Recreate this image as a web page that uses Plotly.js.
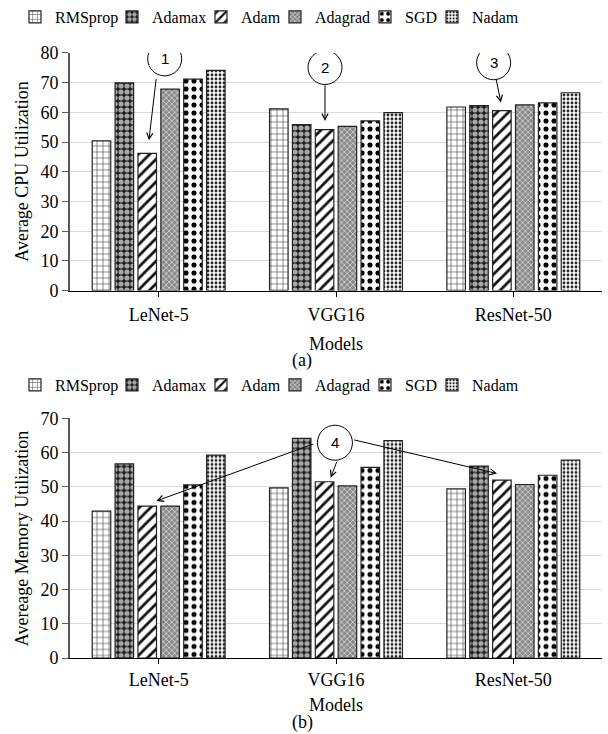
<!DOCTYPE html>
<html>
<head>
<meta charset="utf-8">
<script src="https://cdn.plot.ly/plotly-3.0.1.min.js"></script>
<style>html,body{margin:0;padding:0;background:#fff;}#chart{width:608px;height:734px;}</style>
</head>
<body>
<div id="chart"></div>
<script>
// ---- data ----
var categories = ['LeNet-5', 'VGG16', 'ResNet-50'];
var optimizers = ['RMSprop', 'Adamax', 'Adam', 'Adagrad', 'SGD', 'Nadam'];

var cpuRMSprop = [50.4, 61.2, 61.8];
var cpuAdamax  = [69.9, 55.9, 62.3];
var cpuAdam    = [46.2, 54.2, 60.6];
var cpuAdagrad = [67.8, 55.3, 62.5];
var cpuSGD     = [71.2, 57.1, 63.2];
var cpuNadam   = [74.1, 59.9, 66.6];

var memRMSprop = [42.9, 49.7, 49.4];
var memAdamax  = [56.7, 64.2, 56.1];
var memAdam    = [44.4, 51.5, 52.0];
var memAdagrad = [44.4, 50.3, 50.7];
var memSGD     = [50.6, 55.7, 53.4];
var memNadam   = [59.3, 63.5, 57.8];

var cpuTickVals = [0, 10, 20, 30, 40, 50, 60, 70, 80];
var memTickVals = [0, 10, 20, 30, 40, 50, 60, 70];

var cpuSeries = [cpuRMSprop, cpuAdamax, cpuAdam, cpuAdagrad, cpuSGD, cpuNadam];
var memSeries = [memRMSprop, memAdamax, memAdam, memAdagrad, memSGD, memNadam];

// ---- styles ----
var W = 608, H = 734;
var FONT = '"Liberation Serif", "Times New Roman", serif';
var patterns = [
  {shape: '+', bgcolor: '#ffffff', fgcolor: '#333333', size: 6, solidity: 0.18},
  {shape: '.', bgcolor: '#1a1a1a', fgcolor: '#a8a8a8', size: 6, solidity: 0.6},
  {shape: '/', bgcolor: '#ffffff', fgcolor: '#111111', size: 8, solidity: 0.35},
  {shape: 'x', bgcolor: '#8a8a8a', fgcolor: '#e6e6e6', size: 4, solidity: 0.3},
  {shape: '.', bgcolor: '#ffffff', fgcolor: '#000000', size: 8, solidity: 0.32},
  {shape: '.', bgcolor: '#ffffff', fgcolor: '#222222', size: 4, solidity: 0.4}
];
// legend entry widths (px) so the entries sit closer together, as in the original
var legendWidths = [52, 44, 29, 45, 22, 60];

var traces = [];
function addSeries(series, xa, ya, lid) {
  for (var i = 0; i < optimizers.length; i++) {
    traces.push({
      type: 'bar',
      name: optimizers[i],
      x: categories,
      y: series[i],
      xaxis: xa,
      yaxis: ya,
      legend: lid,
      legendwidth: legendWidths[i],
      marker: {
        color: patterns[i].bgcolor,
        line: {color: '#222222', width: 1.2},
        pattern: Object.assign({fillmode: 'replace'}, patterns[i])
      },
      hoverinfo: 'x+y+name'
    });
  }
}
addSeries(cpuSeries, 'x', 'y', 'legend');
addSeries(memSeries, 'x2', 'y2', 'legend2');

function py(pix) { return 1 - pix / H; }
function px(pix) { return pix / W; }

var axisY = {
  showline: true, linecolor: '#595959', linewidth: 2,
  ticks: 'outside', ticklen: 6, tickcolor: '#595959', tickwidth: 1,
  showgrid: true, gridcolor: '#d9d9d9', gridwidth: 1, zeroline: false,
  tickfont: {family: FONT, size: 18, color: '#000'},
  fixedrange: true
};
var axisX = {
  type: 'category',
  showline: true, linecolor: '#000000', linewidth: 1,
  ticks: 'outside', ticklen: 5, tickcolor: '#000', tickwidth: 1,
  showgrid: false, zeroline: false,
  tickfont: {family: FONT, size: 18, color: '#000'},
  fixedrange: true
};

function label(text, x, y, angle) {
  return {text: text, xref: 'paper', yref: 'paper', x: px(x), y: py(y), xanchor: 'center', yanchor: 'middle',
          textangle: angle || 0, showarrow: false, font: {family: FONT, size: 18, color: '#000'}};
}

var legendBase = {
  orientation: 'h', xanchor: 'center', yanchor: 'middle',
  bgcolor: 'rgba(0,0,0,0)', borderwidth: 0, font: {family: FONT, size: 16, color: '#000'}
};

var layout = {
  width: W, height: H,
  margin: {l: 0, r: 0, t: 0, b: 0},
  paper_bgcolor: '#ffffff', plot_bgcolor: '#ffffff',
  barmode: 'group', bargap: 0.226, bargroupgap: 0.19,
  font: {family: FONT, size: 18, color: '#000'},
  xaxis: Object.assign({}, axisX, {domain: [px(70), px(602)], anchor: 'y', ticklabelstandoff: 3}),
  yaxis: Object.assign({}, axisY, {domain: [py(290), py(52)], range: [0, 80], tickvals: cpuTickVals, anchor: 'x'}),
  xaxis2: Object.assign({}, axisX, {domain: [px(70), px(602)], anchor: 'y2', ticklabelstandoff: 0}),
  yaxis2: Object.assign({}, axisY, {domain: [py(658), py(418)], range: [0, 70], tickvals: memTickVals, anchor: 'x2'}),
  legend: Object.assign({}, legendBase, {x: px(276), y: py(16)}),
  legend2: Object.assign({}, legendBase, {x: px(276), y: py(385)}),
  shapes: [],
  annotations: [
    label('Average CPU Utilization', 22, 171, -90),
    label('Models', 336, 343),
    label('(a)', 302, 360),
    label('Avereage Memory Utilization', 22, 538, -90),
    label('Models', 336, 705),
    label('(b)', 302, 722)
  ]
};

// callouts: circles with numbers, arrows pointing at Adam bars
var callouts = [
  {n: '1', xa: 'x', ya: 'y', cx: 0.034, cy: 78.0, r: 17},
  {n: '2', xa: 'x', ya: 'y', cx: 0.938, cy: 75.1, r: 17},
  {n: '3', xa: 'x', ya: 'y', cx: 1.889, cy: 76.7, r: 17},
  {n: '4', xa: 'x2', ya: 'y2', cx: 0.994, cy: 62.9, r: 17.5}
];
callouts.forEach(function (c) {
  layout.shapes.push({
    type: 'circle', xref: c.xa, yref: c.ya, xsizemode: 'pixel', ysizemode: 'pixel',
    xanchor: c.cx, yanchor: c.cy, x0: -c.r, x1: c.r, y0: -c.r, y1: c.r,
    line: {color: '#000', width: 1}, fillcolor: '#ffffff', layer: 'above'
  });
  layout.annotations.push({
    text: c.n, xref: c.xa, yref: c.ya, x: c.cx, y: c.cy, xanchor: 'center', yanchor: 'middle', showarrow: false,
    font: {family: '"Liberation Sans", Arial, sans-serif', size: 15, color: '#000'}
  });
});
var arrows = [
  {xa: 'x', ya: 'y', x: -0.055, y: 50.6, ax: 7.4, ay: -62.6},
  {xa: 'x', ya: 'y', x: 0.938, y: 57.1, ax: 0, ay: -37},
  {xa: 'x', ya: 'y', x: 1.93, y: 63.3, ax: -5, ay: -24.4},
  {xa: 'x2', ya: 'y2', x: -0.013, y: 45.9, ax: 158.3, ay: -57.4},
  {xa: 'x2', ya: 'y2', x: 0.97, y: 52.7, ax: 6.6, ay: -17.3},
  {xa: 'x2', ya: 'y2', x: 1.908, y: 53.9, ax: -144.4, ay: -34}
];
arrows.forEach(function (a) {
  layout.annotations.push({
    text: '', xref: a.xa, yref: a.ya, x: a.x, y: a.y, ax: a.ax, ay: a.ay,
    showarrow: true, arrowhead: 5, arrowsize: 1.2, arrowwidth: 1, arrowcolor: '#000', standoff: 0
  });
});

Plotly.newPlot('chart', traces, layout, {displayModeBar: false, staticPlot: true});
</script>
</body>
</html>
